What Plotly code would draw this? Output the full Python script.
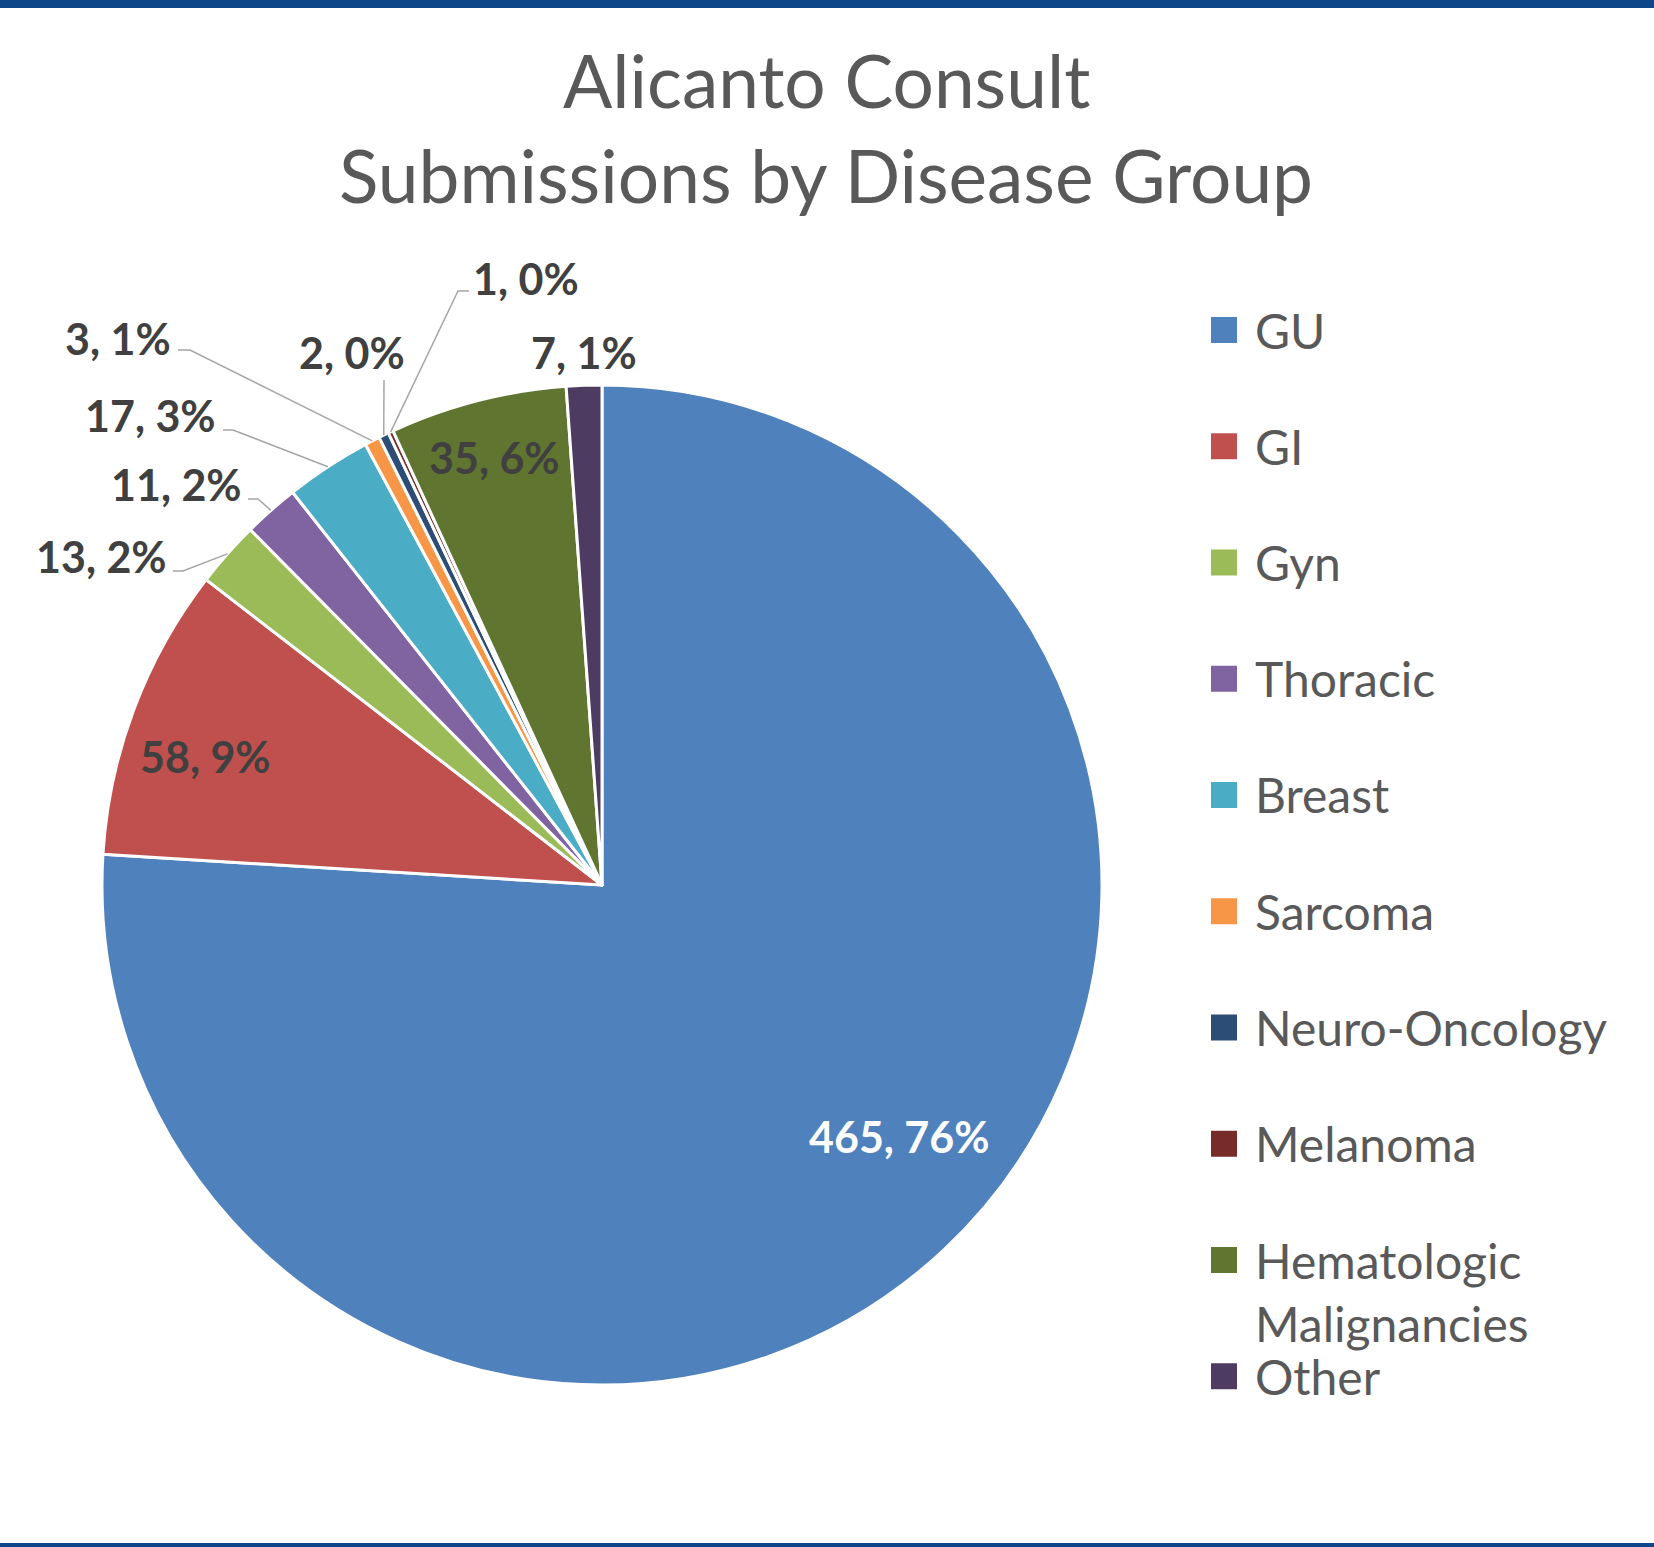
import math
import plotly.graph_objects as go

# ---------------- data ----------------
categories = ["GU", "GI", "Gyn", "Thoracic", "Breast", "Sarcoma",
              "Neuro-Oncology", "Melanoma", "Hematologic Malignancies", "Other"]
counts = [465, 58, 13, 11, 17, 3, 2, 1, 35, 7]
pct_labels = ["76%", "9%", "2%", "2%", "3%", "1%", "0%", "0%", "6%", "1%"]
colors = ["#4F81BD", "#C0504D", "#9BBB59", "#8064A2", "#4BACC6", "#F79646",
          "#2C4D75", "#772C2A", "#5F7530", "#4D3B62"]
title_lines = ["Alicanto Consult", "Submissions by Disease Group"]
legend_wrap = {"Hematologic Malignancies": ["Hematologic", "Malignancies"]}

# ---------------- layout helpers ----------------
W, H = 1654, 1547
CX, CY, R = 602, 885, 500
FONT = "Lato"
GREY = "#595959"
LABEL_GREY = "#404040"


def X(px):
    return px / W


def Y(py):
    return 1 - py / H


# label text centre (px) and leader start points (px) per category
label_layout = {
    "GU": ((899, 1136), []),
    "GI": ((205, 756), []),
    "Gyn": ((101, 556), [(173, 571), (183, 571)]),
    "Thoracic": ((176, 484), [(248, 499), (258, 499)]),
    "Breast": ((150, 416), [(223, 430), (233, 430)]),
    "Sarcoma": ((118, 338), [(178, 350), (190, 350)]),
    "Neuro-Oncology": ((352, 353), [(384, 380)]),
    "Melanoma": ((526, 278), [(469, 291), (458, 291)]),
    "Hematologic Malignancies": ((494, 457), []),
    "Other": ((584, 353), []),
}

fig = go.Figure(
    go.Pie(
        labels=categories,
        values=counts,
        sort=False,
        direction="clockwise",
        rotation=0,
        marker=dict(colors=colors, line=dict(color="white", width=3)),
        textinfo="none",
        hovertemplate="%{label}: %{value} (%{percent})<extra></extra>",
        showlegend=False,
        domain=dict(x=[X(CX - R), X(CX + R)], y=[Y(CY + R), Y(CY - R)]),
    )
)

annotations = []
shapes = []

# title
title_y = [80, 175]
for line, ty in zip(title_lines, title_y):
    annotations.append(dict(
        text=line, x=X(826), y=Y(ty), xref="paper", yref="paper",
        xanchor="center", yanchor="middle", showarrow=False,
        font=dict(family=FONT, size=73, color=GREY)))

# data labels with leader lines
total = sum(counts)
cum = 0
for cat, val, pct in zip(categories, counts, pct_labels):
    mid = (cum + val / 2) / total * 2 * math.pi
    cum += val
    (tx, ty), leader = label_layout[cat]
    color = "#FFFFFF" if cat == "GU" else LABEL_GREY
    annotations.append(dict(
        text=f"<b>{val}, {pct}</b>", x=X(tx), y=Y(ty), xref="paper", yref="paper",
        xanchor="center", yanchor="middle", showarrow=False,
        font=dict(family=FONT, size=43, color=color)))
    if leader:
        ax = CX + R * math.sin(mid)
        ay = CY - R * math.cos(mid)
        pts = leader + [(ax, ay)]
        path = "M " + " L ".join(f"{X(px)},{Y(py)}" for px, py in pts)
        shapes.append(dict(type="path", path=path, xref="paper", yref="paper",
                           line=dict(color="#A6A6A6", width=1.5)))

# legend (manual, to match spacing)
LEG_Y0, LEG_DY = 330, 116.25
for i, (cat, col) in enumerate(zip(categories, colors)):
    my = LEG_Y0 + LEG_DY * i
    shapes.append(dict(type="rect", xref="paper", yref="paper",
                       x0=X(1211), x1=X(1237), y0=Y(my + 13), y1=Y(my - 13),
                       fillcolor=col, line=dict(width=0)))
    for j, line in enumerate(legend_wrap.get(cat, [cat])):
        annotations.append(dict(
            text=line, x=X(1253), y=Y(my + 63 * j), xref="paper", yref="paper",
            xanchor="left", yanchor="middle", showarrow=False,
            font=dict(family=FONT, size=48, color=GREY)))

# top and bottom bars
shapes.append(dict(type="rect", xref="paper", yref="paper", x0=0, x1=1,
                   y0=Y(8), y1=1, fillcolor="#0D4689", line=dict(width=0)))
shapes.append(dict(type="rect", xref="paper", yref="paper", x0=0, x1=1,
                   y0=0, y1=Y(1543), fillcolor="#0D4689", line=dict(width=0)))

fig.update_layout(
    width=W, height=H,
    margin=dict(l=0, r=0, t=0, b=0),
    paper_bgcolor="white", plot_bgcolor="white",
    annotations=annotations, shapes=shapes,
    font=dict(family=FONT),
)

fig.write_html(
    "out.html",
    config={"displayModeBar": False},
    post_script="document.body.style.margin='0';document.body.style.overflow='hidden';",
)
